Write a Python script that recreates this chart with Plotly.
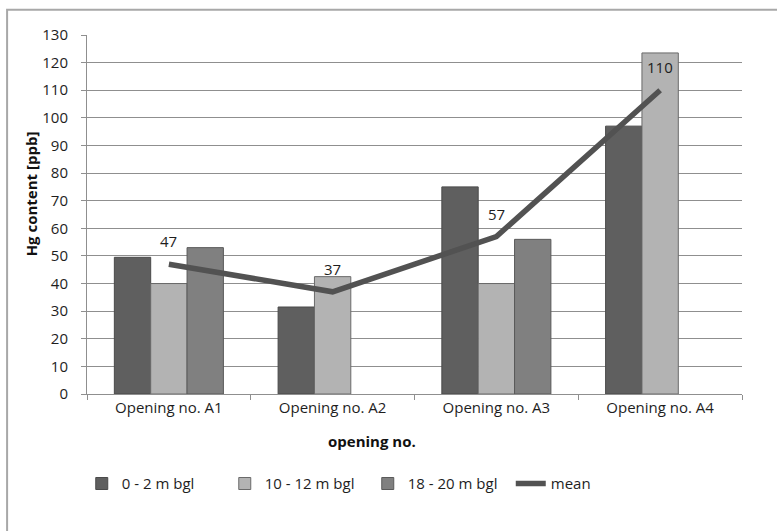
import plotly.graph_objects as go

# Mercury content per opening and depth interval
openings = ["Opening no. A1", "Opening no. A2", "Opening no. A3", "Opening no. A4"]
depth_0_2 = [49.5, 31.5, 75, 97]
depth_10_12 = [40, 42.5, 40, 123.5]
depth_18_20 = [53, None, 56, None]
mean_values = [47, 37, 57, 110]

y_ticks = list(range(0, 131, 10))

FONT = "Open Sans"
GRID = "#8f8f8f"

fig = go.Figure()

bar_styles = [
    ("0 - 2 m bgl", depth_0_2, "#5f5f5f", "#4a4a4a"),
    ("10 - 12 m bgl", depth_10_12, "#b3b3b3", "#6a6a6a"),
    ("18 - 20 m bgl", depth_18_20, "#808080", "#5a5a5a"),
]
for name, vals, fill, edge in bar_styles:
    fig.add_trace(go.Bar(
        x=openings, y=vals, name=name,
        marker=dict(color=fill, line=dict(color=edge, width=1)),
    ))

fig.add_trace(go.Scatter(
    x=openings, y=mean_values, name="mean", mode="lines",
    line=dict(color="#525252", width=5.5),
))

# value labels above the mean line
for cat, v in zip(openings, mean_values):
    fig.add_annotation(
        x=cat, y=v, text=str(v), showarrow=False,
        yshift=23, font=dict(family=FONT, size=15, color="#1e1e1e"),
    )

# axis titles
fig.add_annotation(
    xref="paper", yref="paper", x=0.435, y=-0.13,
    xanchor="center", yanchor="middle",
    text="<b>opening no.</b>", showarrow=False,
    font=dict(family=FONT, size=15, color="#111111"),
)
fig.add_annotation(
    xref="paper", yref="paper", x=-0.085, y=0.557,
    xanchor="center", yanchor="middle",
    text="<b>Hg content [ppb]</b>", showarrow=False, textangle=-90,
    font=dict(family=FONT, size=15, color="#111111"),
)

# chart frame
fig.add_shape(
    type="rect", xref="paper", yref="paper",
    x0=-0.122, y0=-0.45, x1=1.2, y1=1.07,
    line=dict(color="#a8a8a8", width=2), layer="below",
)

fig.update_layout(
    width=777, height=531,
    margin=dict(l=87, r=35, t=35, b=137),
    paper_bgcolor="white", plot_bgcolor="white",
    barmode="group", bargap=0.334, bargroupgap=0,
    font=dict(family=FONT, size=15, color="#1e1e1e"),
    showlegend=True,
    legend=dict(
        orientation="h", x=-0.008, xanchor="left", y=-0.25, yanchor="middle",
        entrywidth=98, entrywidthmode="pixels",
        font=dict(family=FONT, size=15, color="#1e1e1e"),
        itemwidth=30, traceorder="normal",
    ),
)

fig.update_xaxes(
    showline=True, linecolor=GRID, linewidth=1,
    ticks="outside", tickson="boundaries", ticklen=5, tickcolor=GRID,
    showgrid=False, tickfont=dict(family=FONT, size=15, color="#1e1e1e"),
)
fig.update_yaxes(
    range=[0, 130], tickvals=y_ticks,
    showline=True, linecolor=GRID, linewidth=1,
    ticks="outside", ticklen=5, tickcolor=GRID, ticklabelstandoff=10,
    showgrid=True, gridcolor=GRID, gridwidth=1, zeroline=False,
    tickfont=dict(family=FONT, size=15, color="#1e1e1e"),
)

fig.write_html("out.html")
